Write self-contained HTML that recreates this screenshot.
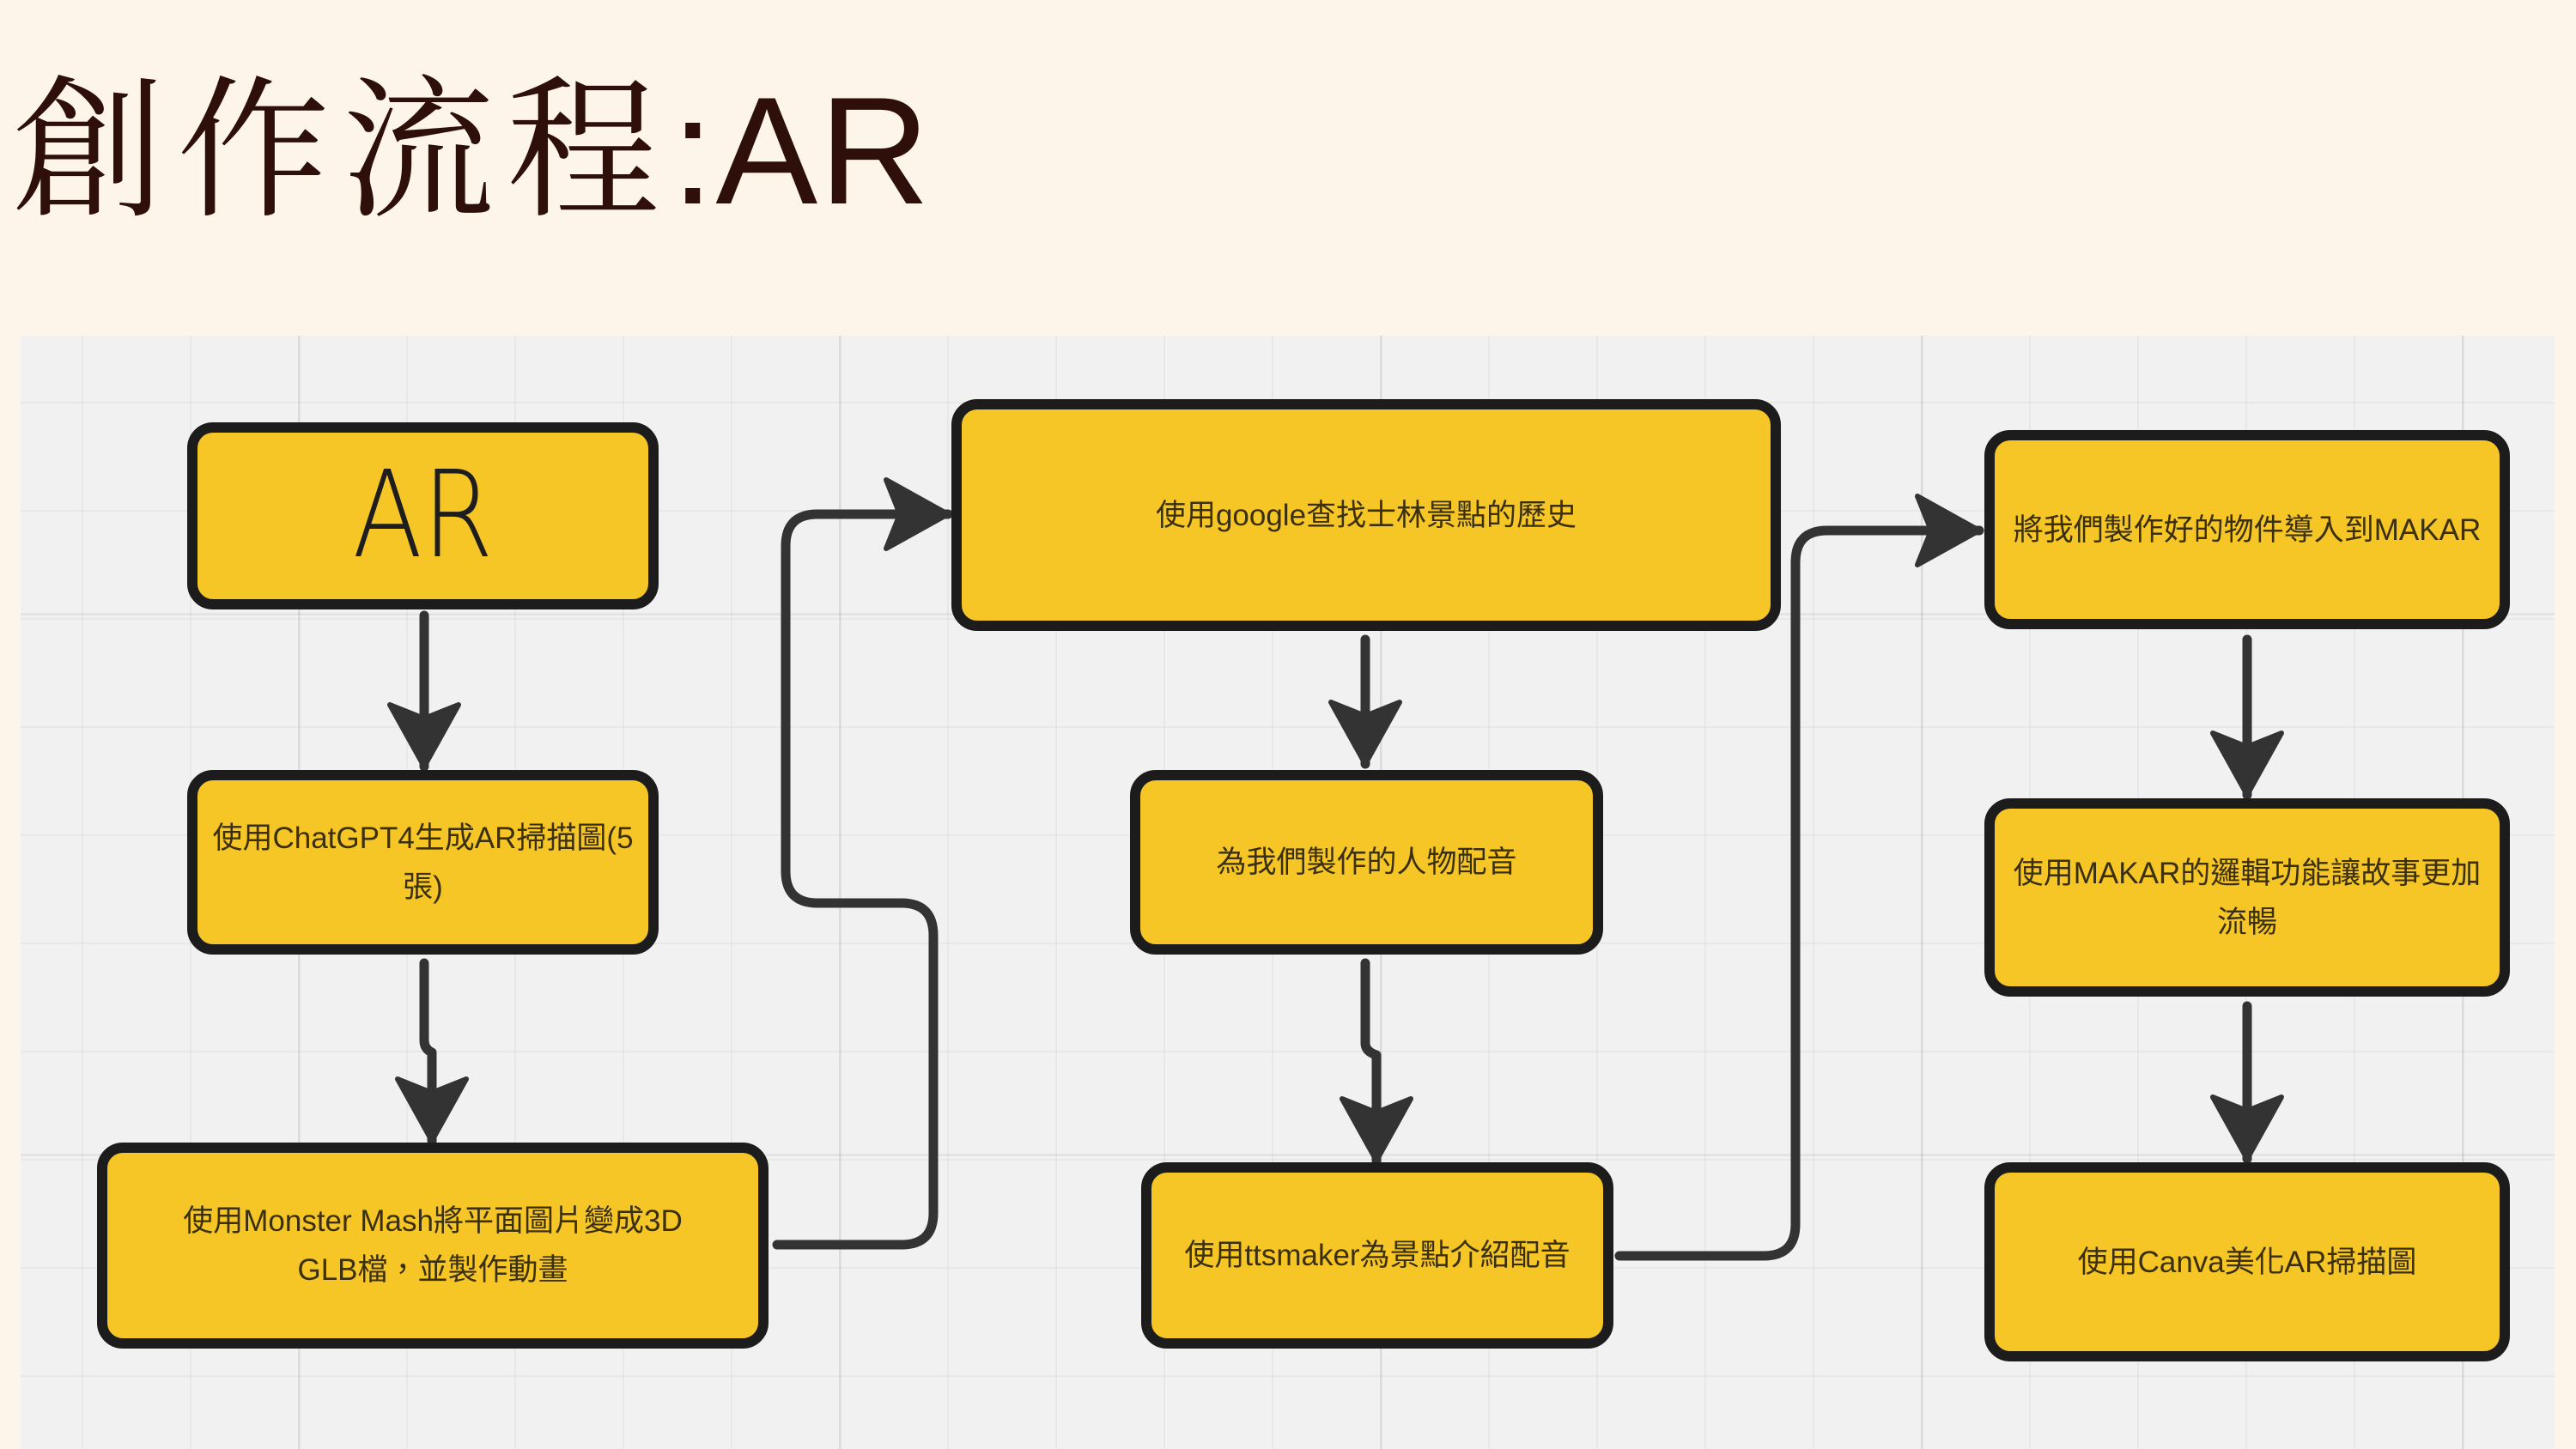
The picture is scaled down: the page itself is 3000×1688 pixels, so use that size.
<!DOCTYPE html>
<html><head><meta charset="utf-8"><style>
html,body{margin:0;padding:0}
body{width:3000px;height:1688px;background:#fdf5e9;position:relative;overflow:hidden;font-family:"Liberation Sans","Noto Sans CJK TC",sans-serif}
.title{position:absolute;left:14px;top:50px;font-size:178px;line-height:220px;color:#2e0f0a;font-family:"Noto Serif CJK SC","Liberation Serif",serif;letter-spacing:14px;white-space:nowrap}
.title span{font-family:"Liberation Sans",sans-serif;letter-spacing:2px}
.grid{position:absolute;left:24px;top:391px;width:2951px;height:1297px;background-color:#f1f1f1;
background-image:linear-gradient(90deg,rgba(0,0,0,0.055) 3px,transparent 3px),linear-gradient(0deg,rgba(0,0,0,0.055) 3px,transparent 3px),linear-gradient(90deg,rgba(0,0,0,0.035) 2px,transparent 2px),linear-gradient(0deg,rgba(0,0,0,0.035) 2px,transparent 2px);
background-size:630px 630px,630px 630px,126px 126px,126px 126px;
background-position:323px 0,0 326px,71px 0,0 79px}
svg{position:absolute;left:0;top:0}
.box{position:absolute;box-sizing:border-box;background:#f6c526;border:12px solid #1c1c1c;border-radius:30px;display:flex;align-items:center;justify-content:center;text-align:center;color:#3a3010;font-size:35px;line-height:57px;padding:0 8px}
.ar{font-family:"DejaVu Sans","Liberation Sans",sans-serif;font-weight:200;font-size:140px;color:#1e1e1e;line-height:160px;transform:scaleX(0.85);display:inline-block}
</style></head><body>
<div class="title">創作流程<span>:AR</span></div>
<div class="grid"></div>
<svg width="3000" height="1688" viewBox="0 0 3000 1688">
<defs>
<marker id="ah" markerUnits="userSpaceOnUse" markerWidth="90" markerHeight="100" refX="80" refY="48" orient="auto">
<path d="M8,8 L80,48 L8,88 L24,48 Z" fill="#333" stroke="#333" stroke-width="6" stroke-linejoin="round"/>
</marker>
</defs>
<g fill="none" stroke="#333" stroke-width="11" stroke-linejoin="round" stroke-linecap="round">
<path d="M494,717 L494,893" marker-end="url(#ah)"/>
<path d="M494,1122 L494,1212 Q494,1222 503,1226 L503,1329" marker-end="url(#ah)"/>
<path d="M905,1450 L1050,1450 Q1087,1450 1087,1413 L1087,1090 Q1087,1052 1050,1052 L952,1052 Q915,1052 915,1015 L915,636 Q915,599 952,599 L1104,599" marker-end="url(#ah)"/>
<path d="M1590,745 L1590,890" marker-end="url(#ah)"/>
<path d="M1590,1122 L1590,1215 Q1590,1225 1603,1229 L1603,1352" marker-end="url(#ah)"/>
<path d="M1886,1463 L2054,1463 Q2091,1463 2091,1426 L2091,655 Q2091,618 2128,618 L2305,618" marker-end="url(#ah)"/>
<path d="M2617,745 L2617,926" marker-end="url(#ah)"/>
<path d="M2617,1172 L2617,1350" marker-end="url(#ah)"/>
</g>
</svg>
<div class="box" style="left:218px;top:492px;width:549px;height:218px"><span class="ar">AR</span></div>
<div class="box" style="left:218px;top:897px;width:549px;height:215px">使用ChatGPT4生成AR掃描圖(5<br>張)</div>
<div class="box" style="left:113px;top:1331px;width:782px;height:240px">使用Monster Mash將平面圖片變成3D<br>GLB檔，並製作動畫</div>
<div class="box" style="left:1108px;top:465px;width:966px;height:270px">使用google查找士林景點的歷史</div>
<div class="box" style="left:1316px;top:897px;width:551px;height:215px">為我們製作的人物配音</div>
<div class="box" style="left:1329px;top:1354px;width:550px;height:217px">使用ttsmaker為景點介紹配音</div>
<div class="box" style="left:2311px;top:501px;width:612px;height:232px;padding:0">將我們製作好的物件導入到MAKAR</div>
<div class="box" style="left:2311px;top:930px;width:612px;height:231px;padding:0">使用MAKAR的邏輯功能讓故事更加<br>流暢</div>
<div class="box" style="left:2311px;top:1354px;width:612px;height:232px">使用Canva美化AR掃描圖</div>
</body></html>
